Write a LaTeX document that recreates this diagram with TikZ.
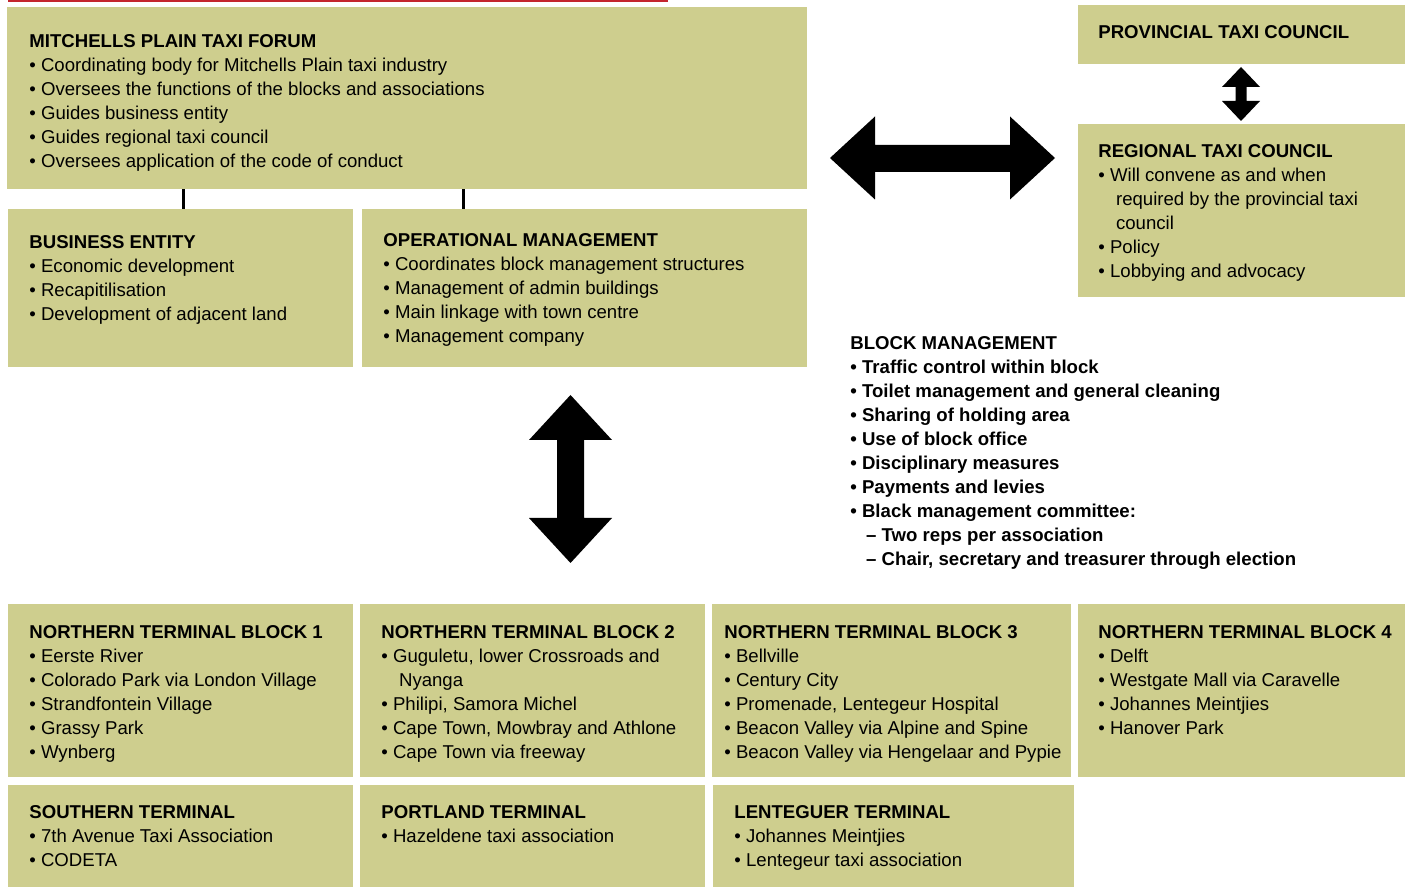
\documentclass[tikz,border=0pt]{standalone}
\usepackage{fontspec}
\setmainfont{Liberation Sans}
\usetikzlibrary{fit}
\definecolor{panelfill}{RGB}{206,206,142}
\definecolor{topred}{RGB}{196,38,46}
\tikzset{
  panel/.style={fill=panelfill,inner sep=0pt},
  txt/.style={anchor=north west,align=left,inner sep=0pt,font=\fontsize{9.3}{12}\selectfont},
  conn/.style={line width=1.3pt},
  blockarrow/.style={fill=black}
}
\begin{document}
\begin{tikzpicture}[x=0.5pt,y=-0.5pt]
     \useasboundingbox (0,0) rectangle (1405,887);
     \fill[topred] (8,0) rectangle (668,2.5);
     % forum and its two arms
     \node[panel,fit={(7,7) (807,189)}] (forum) {};
     \node[panel,fit={(8,209) (353,367)}] (business) {};
     \node[panel,fit={(362,209) (807,367)}] (operational) {};
     \draw[conn] (183.5,0 |- forum.south) -- (183.5,0 |- business.north);
     \draw[conn] (463.5,0 |- forum.south) -- (463.5,0 |- operational.north);
     % councils
     \node[panel,fit={(1078,5) (1405,64)}] (provincial) {};
     \node[panel,fit={(1078,124) (1405,297)}] (regional) {};
     % terminals
     \node[panel,fit={(8,604) (353,777)}] (block1) {};
     \node[panel,fit={(360,604) (705,777)}] (block2) {};
     \node[panel,fit={(712,604) (1071,777)}] (block3) {};
     \node[panel,fit={(1078,604) (1405,777)}] (block4) {};
     \node[panel,fit={(8,785) (353,887)}] (southern) {};
     \node[panel,fit={(360,785) (705,887)}] (portland) {};
     \node[panel,fit={(713,785) (1074,887)}] (lentegeur) {};
     % block arrows
     \fill[blockarrow] (830,158) -- (875,116.5) -- (875,145) -- (1010,145) -- (1010,116.5)
        -- (1055,158) -- (1010,199.5) -- (1010,172) -- (875,172) -- (875,199.5) -- cycle;
     \fill[blockarrow] (570.5,395) -- (612,440) -- (584,440) -- (584,518) -- (612,518)
        -- (570.5,563) -- (529,518) -- (557,518) -- (557,440) -- (529,440) -- cycle;
     \fill[blockarrow] (1241,67) -- (1260,87) -- (1246.5,87) -- (1246.5,101) -- (1260,101)
        -- (1241,121) -- (1222,101) -- (1235.5,101) -- (1235.5,87) -- (1222,87) -- cycle;
     % texts
     \node[txt] (forumtxt) at (29,34) {\textbf{MITCHELLS PLAIN TAXI FORUM}\\
        • Coordinating body for Mitchells Plain taxi industry\\
        • Oversees the functions of the blocks and associations\\
        • Guides business entity\\
        • Guides regional taxi council\\
        • Oversees application of the code of conduct};
     \node[txt] (businesstxt) at (29,235) {\textbf{BUSINESS ENTITY}\\
        • Economic development\\
        • Recapitilisation\\
        • Development of adjacent land};
     \node[txt] (operationaltxt) at (383,233) {\textbf{OPERATIONAL MANAGEMENT}\\
        • Coordinates block management structures\\
        • Management of admin buildings\\
        • Main linkage with town centre\\
        • Management company};
     \node[txt] (provincialtxt) at (1098,25.3) {\textbf{PROVINCIAL TAXI COUNCIL}};
     \node[txt] (regionaltxt) at (1098,144.3) {\textbf{REGIONAL TAXI COUNCIL}\\
        • Will convene as and when\\
        \hspace*{0.95em}required by the provincial taxi\\
        \hspace*{0.95em}council\\
        • Policy\\
        • Lobbying and advocacy};
     \node[txt,font=\fontsize{9.3}{12}\selectfont\bfseries] (blocktxt) at (850,336.5) {BLOCK MANAGEMENT\\
        • Traffic control within block\\
        • Toilet management and general cleaning\\
        • Sharing of holding area\\
        • Use of block office\\
        • Disciplinary measures\\
        • Payments and levies\\
        • Black management committee:\\
        \hspace*{0.85em}– Two reps per association\\
        \hspace*{0.85em}– Chair, secretary and treasurer through election};
     \node[txt] (block1txt) at (29,625) {\textbf{NORTHERN TERMINAL BLOCK 1}\\
        • Eerste River\\
        • Colorado Park via London Village\\
        • Strandfontein Village\\
        • Grassy Park\\
        • Wynberg};
     \node[txt] (block2txt) at (381,625) {\textbf{NORTHERN TERMINAL BLOCK 2}\\
        • Guguletu, lower Crossroads and\\
        \hspace*{0.95em}Nyanga\\
        • Philipi, Samora Michel\\
        • Cape Town, Mowbray and Athlone\\
        • Cape Town via freeway};
     \node[txt] (block3txt) at (724,625) {\textbf{NORTHERN TERMINAL BLOCK 3}\\
        • Bellville\\
        • Century City\\
        • Promenade, Lentegeur Hospital\\
        • Beacon Valley via Alpine and Spine\\
        • Beacon Valley via Hengelaar and Pypie};
     \node[txt] (block4txt) at (1098,625) {\textbf{NORTHERN TERMINAL BLOCK 4}\\
        • Delft\\
        • Westgate Mall via Caravelle\\
        • Johannes Meintjies\\
        • Hanover Park};
     \node[txt] (southerntxt) at (29,805.3) {\textbf{SOUTHERN TERMINAL}\\
        • 7th Avenue Taxi Association\\
        • CODETA};
     \node[txt] (portlandtxt) at (381,805.3) {\textbf{PORTLAND TERMINAL}\\
        • Hazeldene taxi association};
     \node[txt] (lentegeurtxt) at (734,805.3) {\textbf{LENTEGUER TERMINAL}\\
        • Johannes Meintjies\\
        • Lentegeur taxi association};
\end{tikzpicture}
\end{document}
